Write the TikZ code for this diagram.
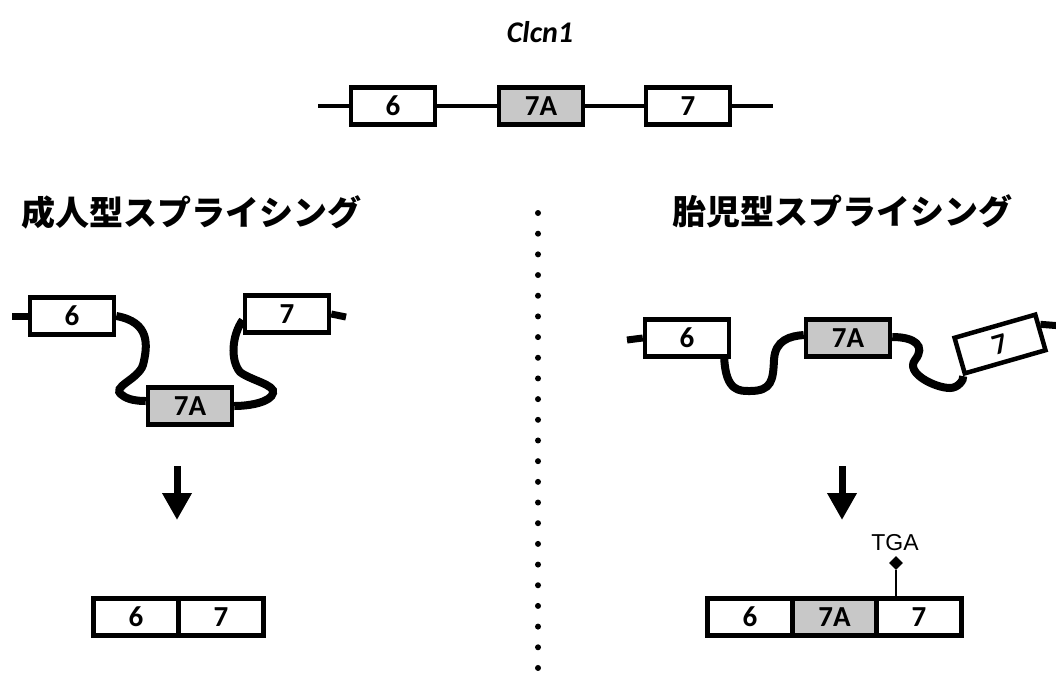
\documentclass[tikz,border=0pt]{standalone}
\usepackage{fontspec}
\setmainfont{Carlito}
\newfontfamily\jpfont{Noto Sans CJK JP}
\newfontfamily\tgafont{Liberation Sans}
\usetikzlibrary{positioning,arrows.meta,shapes.geometric}
\definecolor{exongray}{HTML}{C8C8C8}

\tikzset{
  exon/.style={draw, line width=4.5pt, fill=white, minimum width=84pt, minimum height=37pt,
    inner sep=0pt, font=\fontsize{29}{31}\selectfont\bfseries},
  alt/.style={fill=exongray},
  cell/.style={exon, outer sep=0pt},
  intron/.style={line width=4pt},
  stub/.style={line width=7pt},
  loopline/.style={line width=8pt},
  headline/.style={font=\jpfont\bfseries\fontsize{34}{36}\selectfont},
  bigarrow/.style={line width=7pt, -{Triangle[width=28pt,length=27pt]}}
}

\begin{document}
\begin{tikzpicture}[x=1pt, y=-1pt]
  \useasboundingbox (0,0) rectangle (1056,673);

  % Gene name and genomic structure
  \node[font=\fontsize{30}{32}\selectfont\bfseries\itshape] (gene) at (540,32) {Clcn1};
  \node[exon] (t6) at (393,106) {6};
  \node[exon, alt] (t7a) at (541,106) {7A};
  \node[exon] (t7) at (688,106) {7};
  \coordinate (tl) at (318,106);
  \coordinate (tr) at (773,106);
  \draw[intron] (tl) -- (t6.west);
  \draw[intron] (t6.east) -- (t7a.west);
  \draw[intron] (t7a.east) -- (t7.west);
  \draw[intron] (t7.east) -- (tr);

  % Headings
  \node[headline] (adult) at (191,212) {成人型スプライシング};
  \node[headline] (fetal) at (842,211) {胎児型スプライシング};

  % Divider
  \foreach \i in {0,...,22}
    \fill (538,213+\i*20.68) circle (3pt);

  % Adult splicing: 7A looped out
  \node[exon] (lm6) at (72,316) {6};
  \node[exon] (lm7) at (287,314) {7};
  \node[exon, alt] (lm7a) at (190,406) {7A};
  \coordinate (lml) at (12,316);
  \coordinate (lmr) at (346,317);
  \draw[stub] (lml) -- (lm6.west);
  \draw[stub] (lm7.east) -- (lmr);
  \draw[loopline] (lm6.east) .. controls (150,322) and (148,345) .. (143,365)
    .. controls (138,380) and (110,387) .. (122,395)
    .. controls (128,400) and (138,401) .. ([yshift=5pt]lm7a.west);
  \draw[loopline] ([yshift=-6pt]lm7.west) .. controls (232,335) and (230,360) .. (240,372)
    .. controls (250,380) and (276,385) .. (273,393)
    .. controls (271,402) and (250,406) .. (lm7a.east);

  % Fetal splicing: 7A retained
  \node[exon] (rm6) at (687,338) {6};
  \node[exon, alt] (rm7a) at (848,338) {7A};
  \node[exon, rotate=16] (rm7) at (1000,344) {7};
  \coordinate (rml) at (627,340);
  \coordinate (rmr) at (1062,326);
  \draw[stub] (rml) -- (rm6.west);
  \draw[stub] (rm7.10) -- (rmr);
  \draw[loopline] ([xshift=-7pt]rm6.south east) .. controls (726,392) and (740,391) .. (750,391)
    .. controls (772,391) and (773,380) .. (774,360)
    .. controls (775,340) and (790,336) .. ([yshift=3pt]rm7a.west);
  \draw[loopline] ([yshift=1pt]rm7a.east) .. controls (915,337) and (926,346) .. (915,360)
    .. controls (905,373) and (935,388) .. (950,388)
    .. controls (958,388) and (964,380) .. (rm7.south west);

  % Arrows to mRNA
  \coordinate (la1) at (177,466);
  \coordinate (la2) at (177,520);
  \coordinate (ra1) at (842,466);
  \coordinate (ra2) at (842,520);
  \draw[bigarrow] (la1) -- (la2);
  \draw[bigarrow] (ra1) -- (ra2);

  % Adult mRNA
  \node[cell, minimum width=85pt] (lb6) at (136,617) {6};
  \node[cell, minimum width=85pt, right=0pt of lb6] (lb7) {7};

  % Fetal mRNA with premature stop codon
  \node[cell, minimum width=85pt] (rb6) at (750,617) {6};
  \node[cell, alt, minimum width=84pt, right=0pt of rb6] (rb7a) {7A};
  \node[cell, minimum width=85pt, right=0pt of rb7a] (rb7) {7};
  \node[diamond, fill, inner sep=0pt, minimum size=14pt] (stop) at (896,563) {};
  \node[font=\tgafont\fontsize{23}{25}\selectfont] (tga) at (895,543) {TGA};
  \draw[line width=2.5pt] (stop) -- (stop |- rb7.north);

\end{tikzpicture}
\end{document}
